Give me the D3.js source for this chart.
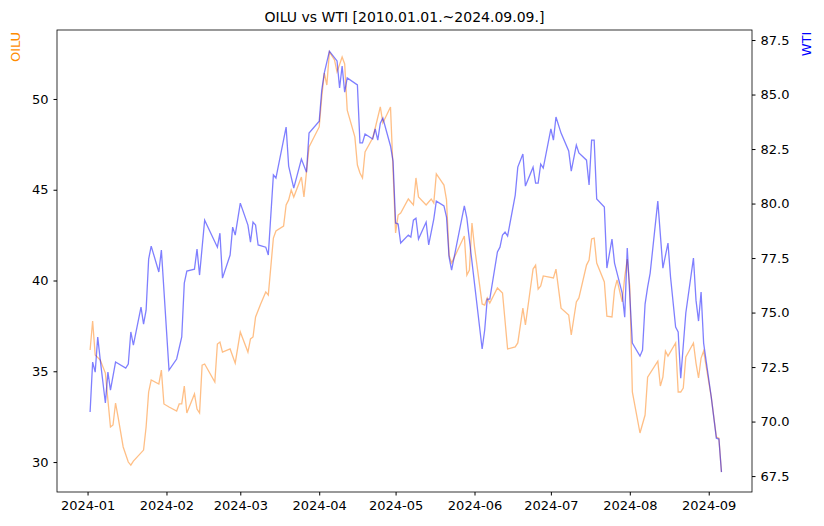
<!DOCTYPE html>
<html><head><meta charset="utf-8">
<script src="https://cdn.jsdelivr.net/npm/d3@7"></script>
<style>body{margin:0;background:#fff}text{font-family:"DejaVu Sans",sans-serif}</style>
</head><body><svg id="c" width="824" height="526"></svg>
<script>
const startDate = "2024-01-01";
const oiluDays = [1,2,3,5,7,8,9,10,11,12,14,16,17,18,22,23,24,25,28,29,30,32,35,36,37,38,39,42,43,44,45,46,50,51,52,53,56,58,60,63,64,65,66,68,70,71,73,74,77,78,79,80,81,84,85,87,91,92,93,94,95,97,98,100,101,102,105,106,107,108,109,112,113,115,116,119,121,122,123,126,128,129,130,133,135,136,137,140,141,142,143,148,149,150,151,152,155,156,157,158,161,163,165,168,169,171,172,175,176,177,178,179,183,184,186,189,190,192,193,196,197,198,199,200,203,204,206,207,208,210,211,212,213,214,217,219,220,224,225,226,227,228,231,232,233,234,235,238,239,240,241,242,245,247,248,249];
const oiluValues = [36.17,37.77,35.9,35.62,34.9,33.42,31.93,32.04,33.25,32.48,30.83,30.0,29.83,30.05,30.66,31.93,33.86,34.52,34.3,35.07,33.2,33.03,32.81,33.2,33.2,34.19,32.7,33.75,32.92,32.7,35.34,35.4,34.41,36.5,36.61,36.06,36.23,35.45,37.16,36.06,36.78,36.89,37.99,38.71,39.37,39.2,42.34,42.73,43.0,44.16,44.44,44.99,44.6,45.7,44.6,47.36,48.46,50.11,51.43,50.77,52.59,52.15,51.49,52.31,51.93,49.39,47.91,46.36,45.92,45.65,47.08,47.85,48.4,49.56,48.68,49.56,42.62,43.61,43.72,44.49,44.16,45.65,44.6,44.16,44.49,44.27,45.87,45.26,44.44,41.4,40.96,42.45,40.3,40.58,43.17,41.85,38.71,38.65,39.04,38.76,39.59,39.31,36.23,36.34,36.56,38.48,37.55,40.63,40.85,39.53,39.7,40.25,40.14,40.63,38.48,38.1,37.0,38.82,39.04,40.85,41.13,42.29,42.34,40.96,39.92,38.04,37.99,39.48,40.03,38.82,40.19,41.18,39.64,33.86,31.6,32.59,34.68,35.56,34.19,34.68,36.12,35.84,36.56,33.86,33.86,34.08,35.79,36.56,35.45,34.63,35.73,36.12,33.58,31.38,31.32,29.45];
const wtiDays = [1,2,3,4,5,7,8,9,11,15,16,17,18,21,22,23,24,25,28,29,32,35,37,38,39,42,43,44,46,51,52,53,56,57,58,60,63,64,65,66,67,70,71,73,74,78,79,81,84,86,87,91,92,93,95,98,99,100,101,102,106,107,108,109,112,113,114,115,116,119,120,121,122,123,126,127,128,129,130,133,134,136,137,140,141,142,143,148,149,155,156,157,158,161,162,163,164,165,168,169,171,172,175,176,177,178,179,182,183,184,186,189,190,192,193,196,197,198,199,200,203,204,206,207,210,211,212,214,217,218,219,220,221,224,226,228,229,231,232,233,235,238,239,240,241,242,245,247,248,249];
const wtiValues = [70.44,72.73,72.27,73.88,72.82,70.85,72.27,71.44,72.73,72.45,72.64,74.11,73.51,75.25,74.47,75.11,77.45,78.05,76.86,77.87,72.36,72.87,73.88,76.35,76.9,76.99,77.91,76.72,79.24,78.0,78.64,76.58,77.64,78.92,78.55,80.02,79.01,78.23,79.15,79.01,78.1,78.0,77.64,81.31,81.17,83.51,81.72,80.71,82.04,81.44,83.23,83.78,85.21,85.99,86.99,86.54,85.3,86.31,85.11,85.76,85.44,82.78,82.78,83.19,82.96,83.42,82.91,83.69,83.92,82.64,81.95,79.11,79.06,78.19,78.55,78.46,79.24,79.33,78.37,79.15,78.1,79.29,80.11,79.89,79.38,77.55,76.95,79.89,79.33,73.33,74.2,75.62,75.62,77.78,78.0,78.56,78.69,78.51,80.39,81.67,82.27,80.8,81.67,80.94,80.94,81.81,81.63,83.42,82.91,83.97,83.23,82.41,81.49,82.68,82.32,81.99,80.85,82.91,82.91,80.21,79.84,77.04,78.37,77.27,75.89,74.79,77.96,73.6,73.0,73.28,75.39,76.17,76.81,80.11,77.04,78.19,76.63,74.33,74.11,71.99,74.98,77.5,75.57,74.61,75.94,73.6,71.12,69.24,69.2,67.68];
const xTickLabels = ["2024-01","2024-02","2024-03","2024-04","2024-05","2024-06","2024-07","2024-08","2024-09"];
const leftTicks = [30,35,40,45,50];
const rightTicks = [67.5,70,72.5,75,77.5,80,82.5,85,87.5];

const svg = d3.select("#c");
const L=57,R=752,T=30,B=492;
const base = new Date(startDate+"T00:00:00");
const toDate = d => d3.timeDay.offset(base, d);
const x = d3.scaleTime().domain([toDate(-11.4), toDate(261.4)]).range([L,R]);
const yL = d3.scaleLinear().domain([28.35,53.8]).range([B,T]);
const yR = d3.scaleLinear().domain([66.77,87.96]).range([B,T]);

const oilu = oiluDays.map((d,i)=>({d:toDate(d),v:oiluValues[i]}));
const wti = wtiDays.map((d,i)=>({d:toDate(d),v:wtiValues[i]}));

svg.append("path").datum(oilu).attr("fill","none").attr("stroke","#ff7f0e").attr("stroke-opacity",0.5).attr("stroke-width",1.3)
  .attr("d",d3.line().x(d=>x(d.d)).y(d=>yL(d.v)));
svg.append("path").datum(wti).attr("fill","none").attr("stroke","blue").attr("stroke-opacity",0.5).attr("stroke-width",1.3)
  .attr("d",d3.line().x(d=>x(d.d)).y(d=>yR(d.v)));

const xTickDates = xTickLabels.map(s=>new Date(s+"-01T00:00:00"));
const fmt = d3.timeFormat("%Y-%m");
const style = g=>{g.selectAll("text").attr("font-size",13).attr("fill","#000").attr("font-family","DejaVu Sans");g.selectAll("line").attr("stroke","#000");g.select(".domain").remove();};
svg.append("g").attr("transform",`translate(0,${B})`).call(d3.axisBottom(x).tickValues(xTickDates).tickFormat(fmt).tickSizeOuter(0).tickSize(3.5).tickPadding(5)).call(style);
svg.append("g").attr("transform",`translate(${L},0)`).call(d3.axisLeft(yL).tickValues(leftTicks).tickFormat(d3.format("d")).tickSize(3.5).tickPadding(5)).call(style);
svg.append("g").attr("transform",`translate(${R},0)`).call(d3.axisRight(yR).tickValues(rightTicks).tickFormat(d3.format(".1f")).tickSize(3.5).tickPadding(5)).call(style);
svg.append("rect").attr("x",L).attr("y",T).attr("width",R-L).attr("height",B-T).attr("fill","none").attr("stroke","#000").attr("stroke-width",0.8);

svg.append("text").attr("x",(L+R)/2).attr("y",T-8).attr("text-anchor","middle").attr("font-size",14).text("OILU vs WTI [2010.01.01.~2024.09.09.]");
svg.append("text").attr("transform",`translate(20,${T+17}) rotate(-90)`).attr("text-anchor","middle").attr("font-size",13).attr("fill","darkorange").text("OILU");
svg.append("text").attr("transform",`translate(811,${T+14}) rotate(-90)`).attr("text-anchor","middle").attr("font-size",13).attr("fill","blue").text("WTI");
</script></body></html>
